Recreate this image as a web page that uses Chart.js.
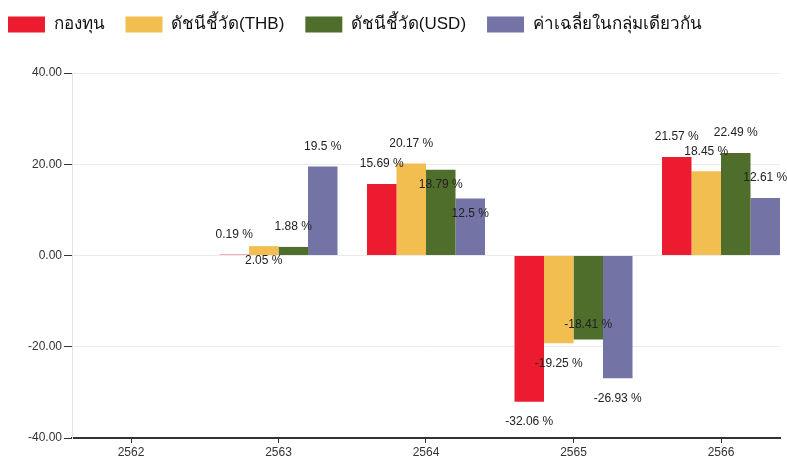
<!DOCTYPE html>
<html>
<head>
<meta charset="utf-8">
<script src="https://cdn.jsdelivr.net/npm/chart.js@4.4.0/dist/chart.umd.min.js"></script>
<style>
  html, body { margin: 0; padding: 0; background: #fff; }
  #wrap { width: 787px; height: 459px; }
</style>
</head>
<body>
<div id="wrap"><canvas id="returnsChart" width="787" height="459"></canvas></div>
<script>
const categories = ['2562', '2563', '2564', '2565', '2566'];
const seriesNames = ['กองทุน', 'ดัชนีชี้วัด(THB)', 'ดัชนีชี้วัด(USD)', 'ค่าเฉลี่ยในกลุ่มเดียวกัน'];
const fundValues = [null, 0.19, 15.69, -32.06, 21.57];
const thbValues = [null, 2.05, 20.17, -19.25, 18.45];
const usdValues = [null, 1.88, 18.79, -18.41, 22.49];
const peerValues = [null, 19.5, 12.5, -26.93, 12.61];
const yTicks = [-40, -20, 0, 20, 40];

const colors = ['#ed1b2f', '#f3be50', '#4f6d2b', '#7473a6'];
const allValues = [fundValues, thbValues, usdValues, peerValues];

Chart.defaults.font.family = "'Liberation Sans', Arial, sans-serif";

// value labels above/below each bar, flipped inside the bar when they'd overlap
const barLabels = {
    id: 'barLabels',
    afterDatasetsDraw(chart) {
        const ctx = chart.ctx;
        ctx.save();
        ctx.font = "12px 'Liberation Sans', Arial, sans-serif";
        ctx.fillStyle = '#222';
        ctx.textAlign = 'center';
        ctx.textBaseline = 'middle';
        const placed = [];
        categories.forEach((c, i) => {
            chart.data.datasets.forEach((ds, d) => {
                const v = ds.data[i].y;
                if (v == null) return;
                const bar = chart.getDatasetMeta(d).data[i];
                const text = v + ' %';
                const w = ctx.measureText(text).width;
                const h = 12;
                const dir = v >= 0 ? -1 : 1;
                const hit = yy => placed.some(p => Math.abs(p.x - bar.x) < (p.w + w) / 2 && Math.abs(p.y - yy) < h);
                let y = bar.y + dir * 20;
                if (hit(y)) y = bar.y - dir * 15;
                placed.push({ x: bar.x, y: y, w: w });
                ctx.fillText(text, bar.x, y);
            });
        });
        ctx.restore();
    }
};

// make room under the legend
const legendSpace = {
    id: 'legendSpace',
    beforeInit(chart) {
        const fit = chart.legend.fit;
        chart.legend.fit = function () {
            fit.bind(chart.legend)();
            this.height = 78;
        };
    }
};

new Chart(document.getElementById('returnsChart'), {
    type: 'bar',
    data: {
        datasets: seriesNames.map((name, d) => ({
            label: name,
            data: categories.map((c, i) => ({ x: i, y: allValues[d][i] })),
            backgroundColor: colors[d],
            borderWidth: 0,
            categoryPercentage: 0.8,
            barPercentage: 1.0
        }))
    },
    options: {
        responsive: false,
        animation: false,
        layout: { padding: { left: -13, top: -5, right: 7, bottom: 0 } },
        plugins: {
            legend: {
                position: 'top',
                align: 'start',
                labels: { boxWidth: 37, boxHeight: 16, padding: 21, color: '#111', font: { size: 17 } }
            },
            tooltip: { enabled: false }
        },
        scales: {
            x: {
                type: 'linear',
                offset: false,
                min: -0.4,
                max: 4.4,
                afterBuildTicks: s => { s.ticks = categories.map((c, i) => ({ value: i })); },
                afterFit: s => { s.height = 21; },
                ticks: { callback: v => categories[v], color: '#333', font: { size: 12 }, padding: 2, autoSkip: false, maxRotation: 0 },
                grid: { offset: false, drawOnChartArea: false, tickLength: 5, tickColor: '#333' },
                border: { color: '#333', width: 2 }
            },
            y: {
                min: -40,
                max: 40,
                afterBuildTicks: s => { s.ticks = yTicks.map(v => ({ value: v })); },
                afterFit: s => { s.width = 85; },
                ticks: { callback: v => v.toFixed(2), color: '#333', font: { size: 12 }, padding: 2 },
                grid: { color: '#ebebeb', tickColor: '#333', tickLength: 8 },
                border: { color: '#e3e3e3' }
            }
        }
    },
    plugins: [barLabels, legendSpace]
});
</script>
</body>
</html>
